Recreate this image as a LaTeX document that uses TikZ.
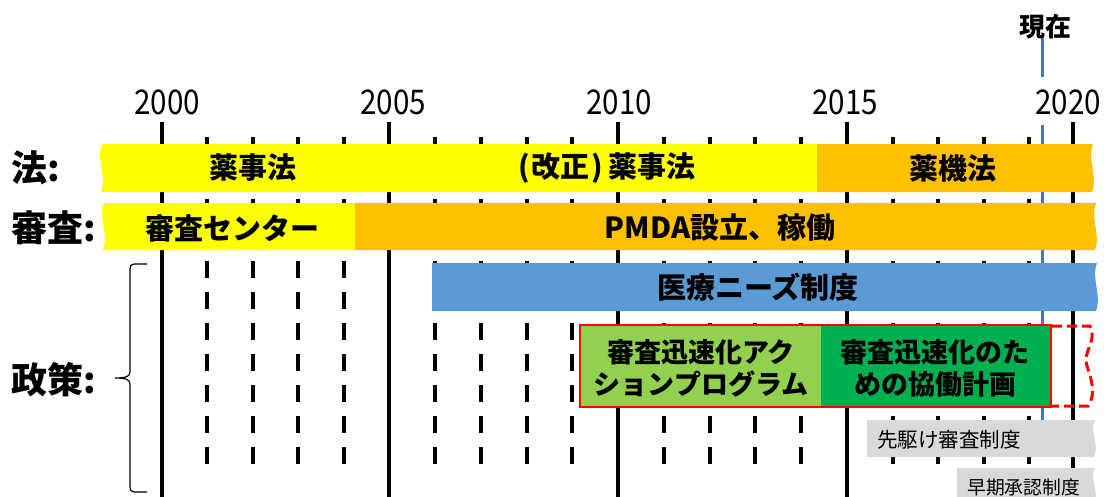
\documentclass[tikz,border=0pt]{standalone}
\usepackage{fontspec}
\setmainfont{Noto Sans CJK JP}
\newfontfamily\yearfont[FakeStretch=0.87]{Noto Sans CJK JP}

\definecolor{cyellow}{RGB}{255,255,0}
\definecolor{corange}{RGB}{255,192,0}
\definecolor{cblue}{RGB}{91,155,213}
\definecolor{clgreen}{RGB}{146,208,80}
\definecolor{cgreen}{RGB}{0,176,80}
\definecolor{cgray}{RGB}{217,217,217}
\definecolor{cnow}{RGB}{68,114,196}
\definecolor{cred}{RGB}{255,0,0}

\begin{document}
\begin{tikzpicture}[x=1pt,y=-1pt,
  solidline/.style={line width=4pt,black},
  dashline/.style={line width=3.5pt,black,dash pattern=on 17pt off 14pt},
  nowline/.style={line width=3pt,cnow},
  bartext/.style={font=\fontsize{29}{33}\selectfont\bfseries, inner sep=0pt},
  boxtext/.style={font=\fontsize{27}{32}\selectfont\bfseries, align=center, inner sep=0pt},
  graytext/.style={font=\fontsize{20.5}{22}\selectfont, inner sep=0pt, anchor=west},
  yeartext/.style={font=\fontsize{34}{36}\yearfont, inner sep=0pt},
  rowlabel/.style={font=\fontsize{36}{40}\selectfont\bfseries, inner sep=0pt, anchor=west},
  bracestyle/.style={line width=1.2pt,black}]
\useasboundingbox (0,0) rectangle (1104,496);

% grid lines
\foreach \x in {162,389,618,847,1073}
  \draw[solidline] (\x,122) -- (\x,500);
\foreach \x in {207,253,298,344,435,481,527,572,664,710,755,801,893,938,984,1029}
  \draw[dashline] (\x,137) -- (\x,466);
% now line
\draw[nowline] (1042,38) -- (1042,77);
\draw[nowline] (1042,125) -- (1042,420);

% years
\node[yeartext] (y2000) at (167,102) {2000};
\node[yeartext] (y2005) at (393,102) {2005};
\node[yeartext] (y2010) at (619,102) {2010};
\node[yeartext] (y2015) at (845,102) {2015};
\node[yeartext] (y2020) at (1068,102) {2020};
\node[font=\fontsize{26}{28}\selectfont\bfseries, inner sep=0pt] (now) at (1045,27) {現在};

% row 1
\fill[cyellow] (818,144) -- (102,144) .. controls (96,160) and (107,176) .. (101,192) -- (818,192) -- cycle;
\fill[corange] (817,144) -- (1093,144) .. controls (1087,160) and (1098,176) .. (1092,192) -- (817,192) -- cycle;
% row 2
\fill[cyellow] (356,203) -- (104,203) .. controls (98,219) and (109,234) .. (103,250) -- (356,250) -- cycle;
\fill[corange] (355,203) -- (1096,203) .. controls (1090,219) and (1101,234) .. (1095,250) -- (355,250) -- cycle;
% policy bars
\fill[cblue] (432,263) -- (1097,263) .. controls (1091,279) and (1102,295) .. (1096,311) -- (432,311) -- cycle;
\fill[clgreen] (581,326) rectangle (821,406);
\fill[cgreen] (821,326) rectangle (1050,406);
\draw[cred,line width=2pt] (580,325) rectangle (1051,407);
\draw[cred,line width=3pt,dash pattern=on 10pt off 5pt]
  (1052,326) -- (1090,326) .. controls (1098,340) and (1082,352) .. (1087,366)
  .. controls (1092,380) and (1096,395) .. (1088,406) -- (1052,406);
\fill[cgray] (867,420) -- (1095,420) .. controls (1089,432) and (1100,445) .. (1094,457) -- (867,457) -- cycle;
\fill[cgray] (957,468) -- (1095,468) .. controls (1089,480) and (1100,492) .. (1094,504) -- (957,504) -- cycle;

% bar texts
\node[bartext] (t1) at (253,168) {薬事法};
\node[bartext] (t2) at (607,168) {(\hspace{2pt}改正\hspace{2pt})\hspace{5pt}薬事法};
\node[bartext] (t3) at (953,168) {薬機法};
\node[bartext] (t4) at (232,228) {審査センター};
\node[bartext] (t5) at (720,228) {PMDA設立、稼働};
\node[bartext] (t6) at (758,287) {医療ニーズ制度};
\node[boxtext] (t7) at (701,368) {審査迅速化アク\\ションプログラム};
\node[boxtext] (t8) at (935,368) {審査迅速化のた\\めの協働計画};
\node[graytext] (t9) at (877,440) {先駆け審査制度};
\node[graytext, font=\fontsize{18.8}{21}\selectfont] (t10) at (967,487) {早期承認制度};

% row labels
\node[rowlabel] (l1) at (11,168) {法:};
\node[rowlabel] (l2) at (11,228) {審査:};
\node[rowlabel] (l3) at (11,380) {政策:};

% brace
\coordinate (bt) at (147,264);
\coordinate (bb) at (147,492);
\coordinate (btip) at (115,378);
\draw[bracestyle] (bt) -- (134,264) .. controls (131,264) and (130,266) .. (130,269) -- (130,372)
  .. controls (130,376) and (127,378) .. (btip) .. controls (127,378) and (130,380) .. (130,384)
  -- (130,487) .. controls (130,490) and (131,492) .. (134,492) -- (bb);
\end{tikzpicture}
\end{document}
